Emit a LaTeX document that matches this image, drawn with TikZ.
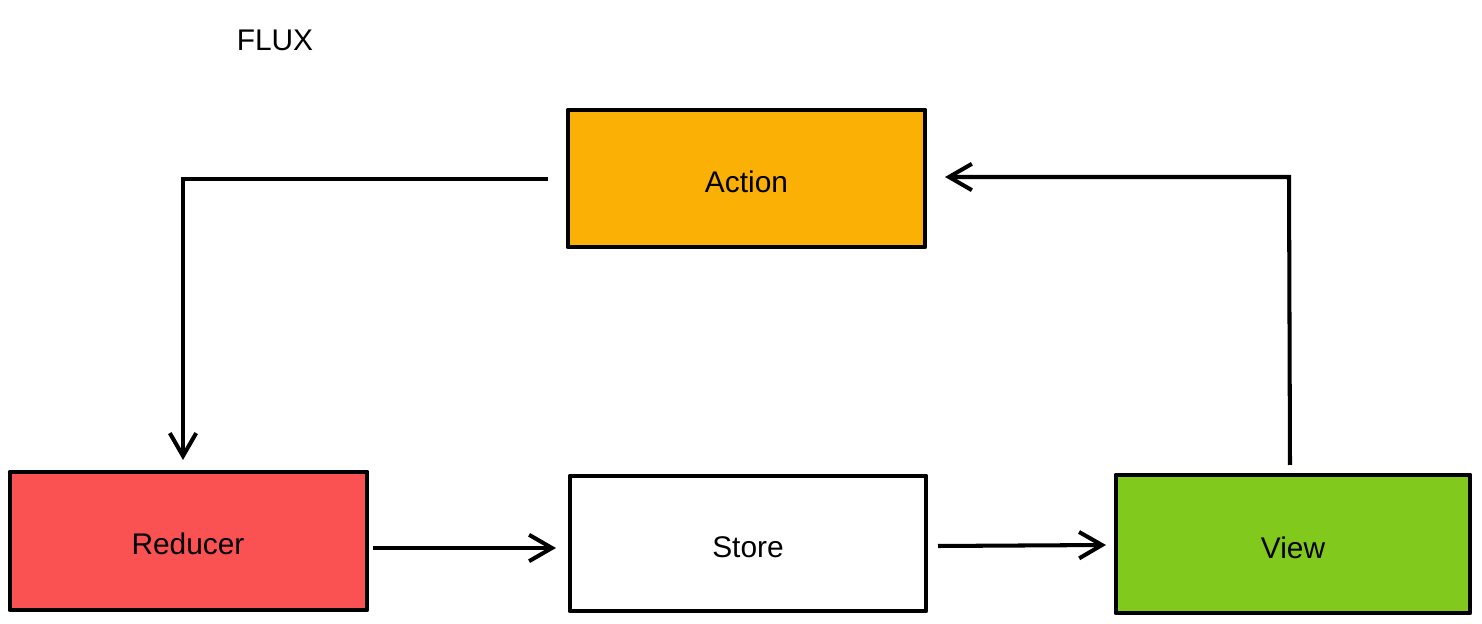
\documentclass[tikz,border=0pt]{standalone}
\usepackage{fontspec}
\setmainfont{Liberation Sans}
\usetikzlibrary{arrows.meta}
\definecolor{actionc}{HTML}{FAB005}
\definecolor{reducerc}{HTML}{FA5252}
\definecolor{viewc}{HTML}{82C91E}
\tikzset{
  blk/.style={draw=black, line width=2.8pt, line join=round},
  lbl/.style={font=\fontsize{17}{20}\selectfont},
  conn/.style={line width=2.3pt, -{Straight Barb[length=13pt,width=15pt,line width=2.3pt]}},
}
\begin{document}
\begin{tikzpicture}[x=0.02cm,y=-0.02cm]
\useasboundingbox (0,0) rectangle (1482,624);
\node[lbl] (title) at (275,40) {FLUX};
\draw[blk, fill=actionc] (568,110) rectangle (925,247);
\node[lbl] (action) at (746.5,182) {Action};
\coordinate (actionL) at (548,179);
\coordinate (actionR) at (945,177);
\draw[blk, fill=reducerc] (10,472) rectangle (367,610);
\node[lbl] (reducer) at (188,544) {Reducer};
\coordinate (reducerT) at (183,460);
\coordinate (reducerR) at (373,548);
\draw[blk, fill=white] (570,476) rectangle (926,611);
\node[lbl] (store) at (748,547) {Store};
\coordinate (storeL) at (556,548);
\coordinate (storeR) at (938,546);
\draw[blk, fill=viewc] (1116,475) rectangle (1470,613);
\node[lbl] (view) at (1293,548) {View};
\coordinate (viewL) at (1106,545);
\coordinate (viewT) at (1290,465);
\draw[conn, line join=miter] (actionL) -- (183,179) -- (reducerT);
\draw[conn] (reducerR) -- (storeL);
\draw[conn] (storeR) -- (viewL);
\draw[conn, line join=miter] (viewT) -- (1289,177) -- (actionR);
\end{tikzpicture}
\end{document}
